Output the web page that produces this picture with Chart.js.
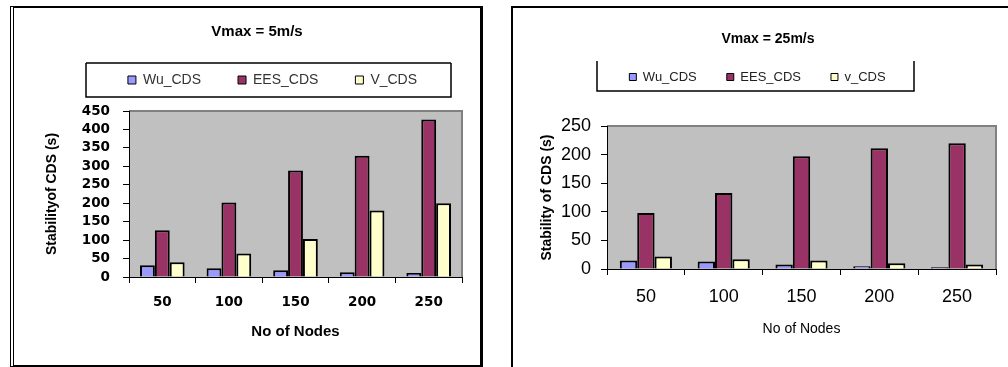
<!DOCTYPE html>
<html>
<head>
<meta charset="utf-8">
<script src="https://cdn.jsdelivr.net/npm/chart.js@4.4.0/dist/chart.umd.min.js"></script>
<style>
body { margin: 0; background: #fff; width: 1008px; height: 367px; overflow: hidden; position: relative; }
.frame { position: absolute; box-sizing: border-box; }
#f1 { left: 10px; top: 6px; width: 473px; height: 361px; border: 2px solid #000; border-left: 4px double #000; border-right: 3px solid #000; }
#f2 { left: 511px; top: 6px; width: 520px; height: 380px; border-top: 2px solid #000; border-left: 2px solid #000; }
canvas { position: absolute; }
#c1 { left: 14px; top: 8px; }
#c2 { left: 514px; top: 8px; }
</style>
</head>
<body>
<div class="frame" id="f1"></div>
<div class="frame" id="f2"></div>
<canvas id="c1" width="467" height="356"></canvas>
<canvas id="c2" width="494" height="359"></canvas>
<script>
var nodes = ['50', '100', '150', '200', '250'];

// Vmax = 5m/s
var wu5 = [32, 24, 18, 13, 11];
var ees5 = [127, 202, 289, 329, 427];
var v5 = [40, 64, 103, 180, 200];
var names5 = ['Wu_CDS', 'EES_CDS', 'V_CDS'];

// Vmax = 25m/s
var wu25 = [15, 13, 8, 5, 3];
var ees25 = [98, 133, 197, 211, 220];
var v25 = [22, 17, 15, 10, 8];
var names25 = ['Wu_CDS', 'EES_CDS', 'v_CDS'];

var colors = ['#9999ff', '#993366', '#ffffcc'];
var sans = "'Liberation Sans', Arial, sans-serif";

// gray plot area, moved title/legend and the box round the legend
var framePlugin = {
    id: 'frame',
    beforeDraw: function(chart) {
        var a = chart.chartArea;
        var ctx = chart.ctx;
        ctx.save();
        ctx.fillStyle = '#c0c0c0';
        ctx.fillRect(a.left, a.top, a.right - a.left, a.bottom - a.top);
        ctx.strokeStyle = '#808080';
        ctx.lineWidth = 2;
        ctx.beginPath();
        ctx.moveTo(a.left, a.top);
        ctx.lineTo(a.right, a.top);
        ctx.lineTo(a.right, a.bottom);
        ctx.stroke();
        ctx.restore();
    },
    afterLayout: function(chart, args, o) {
        var t = chart.titleBlock;
        var d = o.titleX - (t.left + t.right) / 2;
        t.left += d; t.right += d;
        var lg = chart.legend;
        var dx = o.legendX - (lg.left + lg.right) / 2;
        lg.left += dx; lg.right += dx;
        var dy = o.legendY - (lg.top + lg.options.labels.padding + o.itemH / 2);
        lg.top += dy; lg.bottom += dy;
    },
    afterDraw: function(chart, args, o) {
        var ctx = chart.ctx;
        var b = o.box;
        ctx.save();
        ctx.strokeStyle = '#000';
        ctx.lineWidth = 1.5;
        ctx.beginPath();
        if (o.boxTop) {
            ctx.moveTo(b[0], b[1]);
            ctx.lineTo(b[0] + b[2], b[1]);
        }
        ctx.moveTo(b[0], b[1]);
        ctx.lineTo(b[0], b[1] + b[3]);
        ctx.lineTo(b[0] + b[2], b[1] + b[3]);
        ctx.lineTo(b[0] + b[2], b[1]);
        ctx.stroke();
        ctx.restore();
    }
};

function legendItems(chart) {
    var items = Chart.defaults.plugins.legend.labels.generateLabels(chart);
    items.forEach(function(it) { it.lineWidth = 1; });
    return items;
}

function bars(names, a, b, c) {
    return [a, b, c].map(function(vals, i) {
        return {
            label: names[i],
            data: vals,
            backgroundColor: colors[i],
            borderColor: '#000',
            borderWidth: 2,
            categoryPercentage: 0.67,
            barPercentage: 1.0
        };
    });
}

var chart1 = new Chart(document.getElementById('c1'), {
    type: 'bar',
    data: { labels: nodes, datasets: bars(names5, wu5, ees5, v5) },
    options: {
        responsive: false,
        animation: false,
        layout: { padding: { left: 0, right: 19, top: 0, bottom: 23.6 } },
        plugins: {
            title: {
                display: true, text: 'Vmax = 5m/s', color: '#000',
                font: { family: sans, size: 15, weight: 'bold' },
                padding: { top: 15, bottom: 9 }
            },
            legend: {
                position: 'top',
                labels: {
                    boxWidth: 8, boxHeight: 8, padding: 37, color: '#333',
                    font: { family: sans, size: 14 },
                    generateLabels: legendItems
                }
            },
            tooltip: { enabled: false },
            frame: { titleX: 243, legendX: 258.5, legendY: 72, itemH: 14, box: [72, 55, 365, 34], boxTop: true }
        },
        scales: {
            x: {
                grid: { offset: true, drawOnChartArea: false, color: '#000', tickLength: 6 },
                border: { color: '#000' },
                ticks: { color: '#000', padding: 11.6, font: { family: "'DejaVu Sans'", size: 13.5, weight: 'bold' } },
                title: { display: true, text: 'No of Nodes', color: '#000', padding: { top: 0, bottom: 0 },
                    font: { family: sans, size: 15, weight: 'bold' } }
            },
            y: {
                min: 0, max: 450,
                afterFit: function(s) { s.width = 115; },
                grid: { drawOnChartArea: false, color: '#000', tickLength: 6 },
                border: { color: '#000' },
                ticks: { stepSize: 50, autoSkip: false, color: '#000', padding: 13,
                    font: { family: "'DejaVu Sans'", size: 13.5, weight: 'bold' } },
                title: { display: true, text: 'Stabilityof CDS (s)', color: '#000', padding: { top: 29.6, bottom: 0 },
                    font: { family: sans, size: 14, weight: 'bold' } }
            }
        }
    },
    plugins: [framePlugin]
});

var chart2 = new Chart(document.getElementById('c2'), {
    type: 'bar',
    data: { labels: nodes, datasets: bars(names25, wu25, ees25, v25) },
    options: {
        responsive: false,
        animation: false,
        layout: { padding: { left: 0, right: 12, top: 0, bottom: 29.6 } },
        plugins: {
            title: {
                display: true, text: 'Vmax = 25m/s', color: '#000',
                font: { family: sans, size: 14, weight: 'bold' },
                padding: { top: 22.6, bottom: 25.6 }
            },
            legend: {
                position: 'top',
                labels: {
                    boxWidth: 7, boxHeight: 7, padding: 30, color: '#222',
                    font: { family: sans, size: 13 },
                    generateLabels: legendItems
                }
            },
            tooltip: { enabled: false },
            frame: { titleX: 254, legendX: 243.5, legendY: 69, itemH: 13, box: [83, 53, 317, 30], boxTop: false }
        },
        scales: {
            x: {
                grid: { offset: true, drawOnChartArea: false, color: '#000', tickLength: 6 },
                border: { color: '#000' },
                ticks: { color: '#000', padding: 11.2, font: { family: sans, size: 18 } },
                title: { display: true, text: 'No of Nodes', color: '#000', padding: { top: 1.6, bottom: 0 },
                    font: { family: sans, size: 14 } }
            },
            y: {
                min: 0, max: 250,
                afterFit: function(s) { s.width = 93; },
                grid: { drawOnChartArea: false, color: '#000', tickLength: 6 },
                border: { color: '#000' },
                ticks: { stepSize: 50, autoSkip: false, color: '#000', padding: 10, font: { family: sans, size: 18 } },
                title: { display: true, text: 'Stability of CDS (s)', color: '#000', padding: { top: 24.6, bottom: 0 },
                    font: { family: sans, size: 14, weight: 'bold' } }
            }
        }
    },
    plugins: [framePlugin]
});
</script>
</body>
</html>
